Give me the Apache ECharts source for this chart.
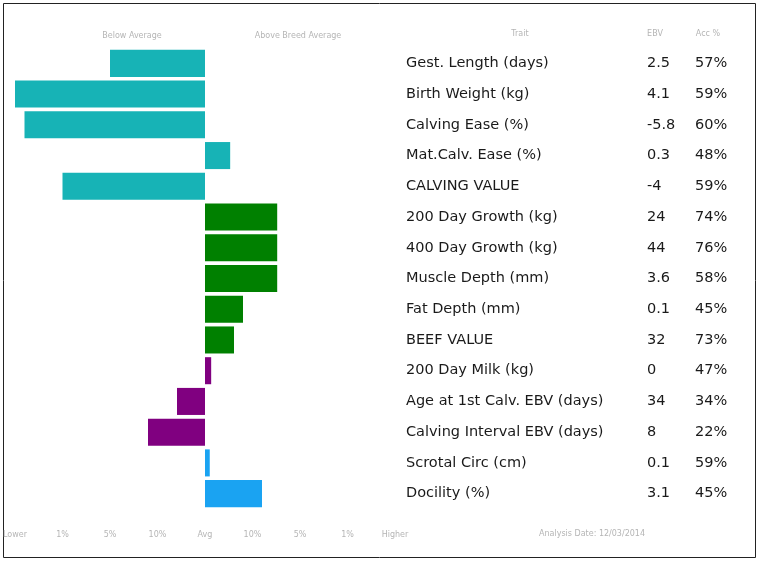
<!DOCTYPE html>
<html>
<head>
<meta charset="utf-8">
<script src="https://cdn.jsdelivr.net/npm/echarts@6/dist/echarts.min.js"></script>
<style>
  html, body { margin: 0; padding: 0; background: #fff; }
  #chart { width: 758px; height: 561px; }
</style>
</head>
<body>
<div id="chart"></div>
<script>
// trait names, EBVs and accuracies as shown in the table
const traits = ['Gest. Length (days)', 'Birth Weight (kg)', 'Calving Ease (%)', 'Mat.Calv. Ease (%)',
  'CALVING VALUE', '200 Day Growth (kg)', '400 Day Growth (kg)', 'Muscle Depth (mm)',
  'Fat Depth (mm)', 'BEEF VALUE', '200 Day Milk (kg)', 'Age at 1st Calv. EBV (days)',
  'Calving Interval EBV (days)', 'Scrotal Circ (cm)', 'Docility (%)']
const ebvs = ['2.5', '4.1', '-5.8', '0.3', '-4', '24', '44', '3.6', '0.1', '32', '0', '34', '8', '0.1', '3.1']
const accs = ['57%', '59%', '60%', '48%', '59%', '74%', '76%', '58%', '45%', '73%', '47%', '34%', '22%', '59%', '45%']

// bar lengths (standardised deviation from breed average)
const deviations = [-2.0, -4.0, -3.8, 0.53, -3.0, 1.52, 1.52, 1.52, 0.8, 0.61, 0.13, -0.59, -1.2, 0.1, 1.2]
const groups = ['calving', 'calving', 'calving', 'calving', 'calving', 'growth', 'growth', 'growth',
  'growth', 'growth', 'fertility', 'fertility', 'fertility', 'other', 'other']
const groupColors = { calving: '#17B3B6', growth: '#008000', fertility: '#800080', other: '#1AA3F2' }

const tickLabels = ['Lower', '1%', '5%', '10%', 'Avg', '10%', '5%', '1%', 'Higher']

const chart = echarts.init(document.getElementById('chart'))

const sideAxis = (data, offset) => ({
  type: 'category',
  position: 'right',
  inverse: true,
  offset: offset,
  data: data,
  axisLine: { show: false },
  axisTick: { show: false },
  axisLabel: {
    margin: 11,
    align: 'left',
    color: '#1a1a1a',
    fontSize: 14.5,
    fontFamily: 'DejaVu Sans'
  }
})

const faint = { fill: '#b5b5b5', fontSize: 8, fontFamily: 'DejaVu Sans' }

const option = {
  animation: false,
  grid: { left: 15, right: 363, top: 48, bottom: 52 },
  xAxis: {
    type: 'value',
    min: -4,
    max: 4,
    interval: 1,
    splitLine: { show: false },
    axisLine: { show: false },
    axisTick: { show: false },
    axisLabel: {
      margin: 22,
      color: '#b5b5b5',
      fontSize: 8,
      fontFamily: 'DejaVu Sans',
      formatter: (v) => tickLabels[v + 4]
    }
  },
  yAxis: [
    {
      type: 'category',
      inverse: true,
      data: traits,
      show: false
    },
    sideAxis(traits, 0),
    sideAxis(ebvs, 241),
    sideAxis(accs, 289)
  ],
  series: [
    {
      type: 'bar',
      yAxisIndex: 0,
      barCategoryGap: '12%',
      data: deviations.map((v, i) => ({
        value: v,
        itemStyle: { color: groupColors[groups[i]] }
      }))
    }
  ],
  graphic: [
    {
      type: 'rect',
      shape: { x: 3.5, y: 3.5, width: 752, height: 554 },
      style: { fill: 'none', stroke: '#222', lineWidth: 1 }
    },
    { type: 'text', x: 132, y: 36, style: Object.assign({ text: 'Below Average', align: 'center', verticalAlign: 'middle' }, faint) },
    { type: 'text', x: 298, y: 36, style: Object.assign({ text: 'Above Breed Average', align: 'center', verticalAlign: 'middle' }, faint) },
    { type: 'text', x: 520, y: 34, style: Object.assign({ text: 'Trait', align: 'center', verticalAlign: 'middle' }, faint) },
    { type: 'text', x: 655, y: 34, style: Object.assign({ text: 'EBV', align: 'center', verticalAlign: 'middle' }, faint) },
    { type: 'text', x: 708, y: 34, style: Object.assign({ text: 'Acc %', align: 'center', verticalAlign: 'middle' }, faint) },
    { type: 'text', x: 592, y: 534, style: Object.assign({ text: 'Analysis Date: 12/03/2014', align: 'center', verticalAlign: 'middle' }, faint) }
  ]
}

chart.setOption(option)
</script>
</body>
</html>
